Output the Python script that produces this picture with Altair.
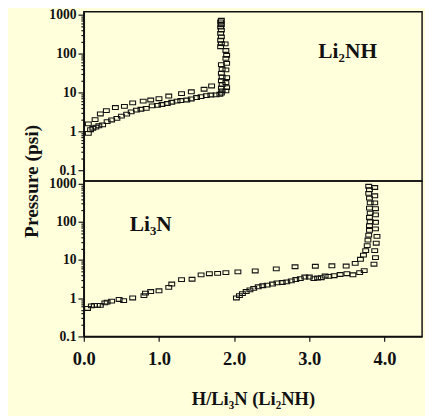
import altair as alt
import pandas as pd

# ---------------- data ----------------
# Upper panel: Li2NH
top_a_x = [0.06, 0.09, 0.12, 0.16, 0.20, 0.25, 0.31, 0.37, 0.44, 0.50, 0.57, 0.63, 0.70, 0.76, 0.83,
           0.91, 0.98, 1.04, 1.11, 1.17, 1.24, 1.29, 1.37, 1.43, 1.50, 1.56, 1.63, 1.69, 1.76, 1.81,
           1.83, 1.84, 1.83, 1.84, 1.83, 1.84, 1.83, 1.84, 1.83,
           1.82, 1.83, 1.82, 1.83, 1.82, 1.83, 1.82, 1.83, 1.82, 1.83]
top_a_p = [0.89, 1.1, 1.2, 1.28, 1.39, 1.47, 1.78, 1.96, 2.15, 2.47, 2.77, 3.16, 3.5, 3.7, 3.9,
           4.5, 4.65, 4.9, 5.2, 5.6, 6.0, 6.2, 6.4, 6.8, 7.4, 7.8, 8.3, 8.6, 8.7, 9.0,
           9.6, 11, 13, 16, 20, 25, 31, 40, 52,
           150, 180, 220, 270, 330, 400, 480, 560, 650, 720]
top_b_x = [0.06, 0.15, 0.22, 0.30, 0.42, 0.54, 0.65, 0.79, 0.89, 1.00, 1.13, 1.30, 1.43, 1.60, 1.70,
           1.89, 1.90, 1.89, 1.90, 1.89, 1.90, 1.89, 1.90, 1.89, 1.88]
top_b_p = [1.55, 2.0, 2.8, 3.4, 4.1, 4.4, 5.4, 6.0, 6.4, 6.9, 8.1, 9.3, 10.4, 12.1, 14.7,
           11, 13.3, 18, 24, 38, 56, 75, 90, 120, 178]

# Lower panel: Li3N
bot_a_x = [0.05, 0.10, 0.14, 0.18, 0.22, 0.28, 0.31, 0.37, 0.47, 0.53, 0.65, 0.80, 0.82, 0.89, 1.00,
           1.13, 1.17, 1.30, 1.44, 1.56, 1.67, 1.78, 1.89, 2.05, 2.28, 2.56, 2.81, 3.08, 3.30, 3.49,
           3.61, 3.68, 3.72, 3.75, 3.77, 3.78, 3.79, 3.80, 3.80, 3.81, 3.80, 3.81, 3.80, 3.81, 3.80,
           3.79, 3.80, 3.79]
bot_a_p = [0.54, 0.63, 0.65, 0.65, 0.65, 0.76, 0.79, 0.84, 0.93, 0.87, 1.02, 1.17, 1.36, 1.5, 1.57,
           1.93, 2.36, 3.08, 3.15, 4.1, 4.4, 4.5, 4.7, 4.9, 5.2, 5.9, 6.7, 6.9, 7.1, 7.0,
           8.2, 10.5, 13.5, 17.7, 24, 33.6, 45, 60, 80, 101, 131, 170, 230, 316, 420,
           560, 700, 860]
bot_b_x = [2.03, 2.07, 2.11, 2.16, 2.21, 2.26, 2.32, 2.38, 2.44, 2.51, 2.57, 2.64, 2.70, 2.76, 2.82,
           2.88, 2.94, 3.00, 3.06, 3.11, 3.16, 3.21, 3.26, 3.33, 3.41, 3.50, 3.58, 3.67, 3.73,
           3.86, 3.88, 3.87, 3.89, 3.90, 3.88, 3.88, 3.88, 3.88, 3.87, 3.87, 3.87]
bot_b_p = [1.02, 1.17, 1.32, 1.5, 1.66, 1.82, 2.0, 2.13, 2.22, 2.36, 2.54, 2.59, 2.7, 2.86, 3.1,
           3.27, 3.6, 3.6, 3.27, 3.4, 3.46, 3.83, 3.75, 3.9, 4.2, 4.4, 4.13, 4.7, 5.3,
           7.8, 11.6, 17.7, 27.7, 42, 66, 98, 153, 222, 316, 485, 800]

x_ticks = [0, 0.25, 0.5, 0.75, 1, 1.25, 1.5, 1.75, 2, 2.25, 2.5, 2.75, 3, 3.25, 3.5, 3.75, 4, 4.25, 4.5]
y_ticks = [round(m * d, 4) for d in (0.1, 1, 10, 100) for m in range(1, 10)] + [1000]

label_top = "Li₂NH"
label_bot = "Li₃N"
x_title = "H/Li₃N (Li₂NH)"
y_title = "Pressure (psi)"

# ---------------- chart ----------------
FONT = "Liberation Serif"
BG = "#FFFFDC"
INK = "#111111"
RECT = "M-1,-0.65L1,-0.65L1,0.65L-1,0.65Z"

top_df = pd.DataFrame({"x": top_a_x + top_b_x, "p": top_a_p + top_b_p})
bot_df = pd.DataFrame({"x": bot_a_x + bot_b_x, "p": bot_a_p + bot_b_p})

is_decade = "abs(log(datum.value)/LN10 - round(log(datum.value)/LN10)) < 0.001"


def y_axis(title=None):
    kw = dict(
        values=y_ticks,
        labelExpr=f"{is_decade} ? format(datum.value, '~g') : ''",
        tickSize={"condition": {"test": is_decade, "value": 6}, "value": 3},
        labelOverlap=False, labelFlush=False,
        labelFont=FONT, labelFontSize=14, labelFontWeight="bold", labelColor=INK,
        labelPadding=2, tickColor=INK, tickWidth=1.2, domainColor=INK, domainWidth=1.5,
        grid=False,
    )
    if title:
        kw.update(title=title, titleFont=FONT, titleFontSize=20, titleFontWeight="bold",
                  titleColor=INK, titlePadding=8, titleY=0)
    else:
        kw.update(title=None)
    return alt.Axis(**kw)


x_scale = alt.Scale(domain=[0, 4.5], nice=False, zero=False)

pts = dict(shape=RECT, size=36, filled=False, stroke=INK, strokeWidth=1.1, opacity=1)

top_pts = alt.Chart(top_df).mark_point(**pts).encode(
    x=alt.X("x:Q", scale=x_scale, axis=None),
    y=alt.Y("p:Q", scale=alt.Scale(type="log", domain=[0.0531, 1189], nice=False), axis=y_axis()),
)
top_txt = alt.Chart(pd.DataFrame({"t": [label_top]})).mark_text(
    font=FONT, fontSize=22, fontWeight="bold", color=INK, baseline="middle", align="center"
).encode(x=alt.datum(3.51), y=alt.datum(115), text="t:N")
top = alt.layer(top_pts, top_txt).properties(width=348, height=174)

bot_pts = alt.Chart(bot_df).mark_point(**pts).encode(
    x=alt.X("x:Q", scale=x_scale, axis=alt.Axis(
        values=x_ticks,
        labelExpr="datum.value % 1 == 0 ? format(datum.value, '.1f') : ''",
        tickSize=5, tickColor=INK, tickWidth=1.2, domainColor=INK, domainWidth=1.5,
        labelFont=FONT, labelFontSize=19, labelFontWeight="bold", labelColor=INK,
        labelPadding=9, labelOverlap=False, labelFlush=False, grid=False,
        title=x_title, titleFont=FONT, titleFontSize=19, titleFontWeight="bold",
        titleColor=INK, titlePadding=22)),
    y=alt.Y("p:Q", scale=alt.Scale(type="log", domain=[0.1, 1190], nice=False), axis=y_axis(y_title)),
)
bot_txt = alt.Chart(pd.DataFrame({"t": [label_bot]})).mark_text(
    font=FONT, fontSize=22, fontWeight="bold", color=INK, baseline="middle", align="center"
).encode(x=alt.datum(0.89), y=alt.datum(90), text="t:N")
bot = alt.layer(bot_pts, bot_txt).properties(width=348, height=160)

chart = alt.vconcat(top, bot, spacing=0, bounds="flush").properties(
    background=BG,
    padding={"left": 13, "top": -7, "right": 2, "bottom": 2},
).configure_view(stroke=INK, strokeWidth=1.5, fill=None)

chart.save("out.html", embed_options={"renderer": "svg", "actions": False})
